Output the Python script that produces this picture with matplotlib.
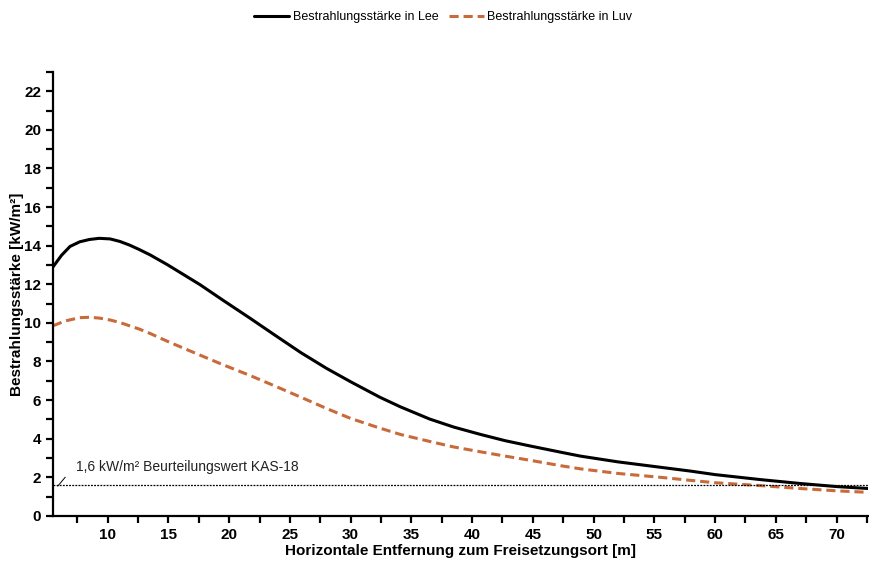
import matplotlib
matplotlib.use("Agg")
import matplotlib.pyplot as plt
from matplotlib.ticker import MultipleLocator

plt.rcParams['font.family'] = ['Liberation Sans', 'DejaVu Sans']

lee_x = [5.5, 6.2, 6.9, 7.7, 8.5, 9.3, 10.2, 11.0, 11.8, 12.6, 13.5, 14.9, 16.2, 17.6, 19.5, 21.7, 23.8, 25.9, 28.0, 30.0, 32.4, 34.1, 36.5, 38.5, 40.7, 42.7, 44.8, 47.3, 48.9, 52.0, 55.5, 58.0, 60.0, 63.75, 67.0, 70.0, 72.6]
lee_y = [12.9, 13.5, 13.96, 14.2, 14.32, 14.38, 14.35, 14.22, 14.03, 13.8, 13.52, 13.02, 12.52, 11.98, 11.17, 10.25, 9.35, 8.46, 7.65, 6.95, 6.15, 5.65, 5.02, 4.6, 4.22, 3.9, 3.62, 3.3, 3.1, 2.8, 2.52, 2.32, 2.14, 1.88, 1.68, 1.52, 1.42]

luv_x = [5.5, 6.5, 7.7, 8.5, 9.3, 10.2, 11.0, 12.6, 13.5, 14.9, 16.2, 17.6, 19.5, 21.7, 23.8, 25.9, 28.0, 30.0, 32.4, 34.1, 36.5, 38.5, 40.7, 42.7, 44.8, 47.3, 48.9, 52.0, 55.5, 58.0, 60.0, 63.75, 67.0, 70.0, 72.6]
luv_y = [9.85, 10.1, 10.27, 10.29, 10.25, 10.15, 10.02, 9.68, 9.45, 9.05, 8.7, 8.33, 7.83, 7.28, 6.72, 6.15, 5.57, 5.05, 4.55, 4.22, 3.86, 3.57, 3.32, 3.1, 2.88, 2.6, 2.44, 2.2, 2.0, 1.84, 1.72, 1.57, 1.42, 1.3, 1.22]

threshold = 1.6
threshold_label = "1,6 kW/m² Beurteilungswert KAS-18"

fig = plt.figure(figsize=(8.69, 5.62), dpi=100)
ax = fig.add_axes([0.061, 0.082, 0.938, 0.79])

l1, = ax.plot(lee_x, lee_y, color='black', lw=2.2, solid_capstyle='round', solid_joinstyle='round')
l2, = ax.plot(luv_x, luv_y, color='#c96a3a', lw=2.2, dashes=(3, 1.6))
ax.axhline(threshold, color='black', lw=0.9, ls=(0, (1.5, 1)))
ax.plot([5.9, 6.5], [1.55, 2.0], color='black', lw=0.7)
ax.text(7.4, 2.35, threshold_label, fontsize=10, color='#222222')

ax.set_xlim(5.5, 72.6)
ax.set_ylim(0, 23)
ax.xaxis.set_major_locator(MultipleLocator(5))
ax.xaxis.set_minor_locator(MultipleLocator(2.5))
ax.yaxis.set_major_locator(MultipleLocator(2))
ax.yaxis.set_minor_locator(MultipleLocator(1))
ax.set_xticks(range(10, 75, 5))
for s in ['top', 'right']:
    ax.spines[s].set_visible(False)
for s in ['left', 'bottom']:
    ax.spines[s].set_linewidth(1.6)
ax.tick_params(which='major', direction='out', length=5, width=1.6, labelsize=11)
ax.tick_params(which='minor', direction='out', length=5, width=1.6)
for lab in ax.get_xticklabels() + ax.get_yticklabels():
    lab.set_fontweight('bold')

ax.set_xlabel("Horizontale Entfernung zum Freisetzungsort [m]", fontsize=11, fontweight='bold', labelpad=2)
ax.set_ylabel("Bestrahlungsstärke [kW/m²]", fontsize=11, fontweight='bold', labelpad=0)

fig.legend([l1, l2], ["Bestrahlungsstärke in Lee", "Bestrahlungsstärke in Luv"],
           loc='upper center', bbox_to_anchor=(0.51, 1.0), ncol=2, frameon=False,
           fontsize=9, handlelength=2.8, handletextpad=0.3, columnspacing=0.8)

fig.savefig("out.png", dpi=100)
